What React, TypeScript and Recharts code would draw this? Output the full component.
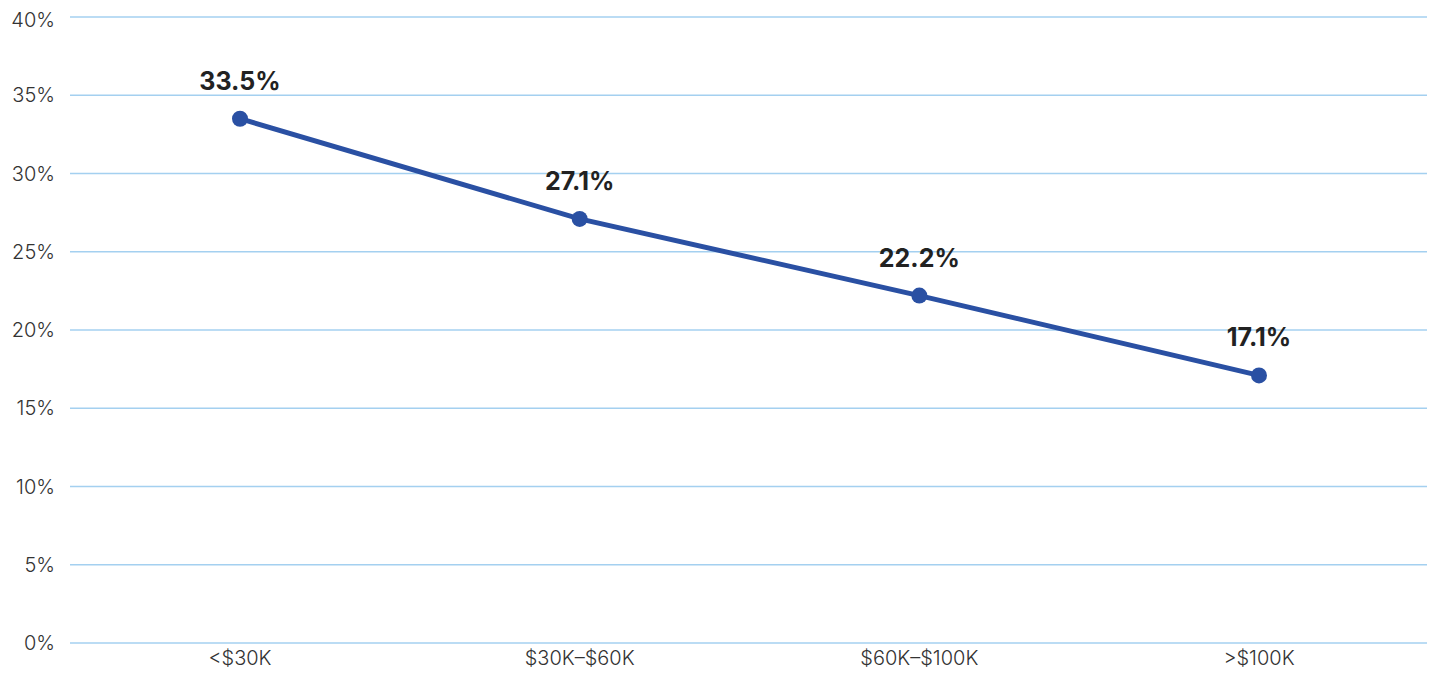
import React from 'react';
import { LineChart, Line, XAxis, YAxis, CartesianGrid, LabelList } from 'recharts';

const categories = ['<$30K', '$30K–$60K', '$60K–$100K', '>$100K'];
const shares = [33.5, 27.1, 22.2, 17.1];
const yTicks = [0, 5, 10, 15, 20, 25, 30, 35, 40];

const data = categories.map((name, i) => ({ name, value: shares[i] }));

const LINE_COLOR = '#2a50a3';
const GRID_COLOR = '#a4d0f0';
const FONT = 'Inter, "Noto Sans", sans-serif';

export default function App() {
  return (
    <div style={{ width: 1427, height: 673 }}>
      <LineChart
        width={1427}
        height={673}
        data={data}
        margin={{ top: 9, right: 6, bottom: 8, left: 0 }}
      >
        <CartesianGrid vertical={false} stroke={GRID_COLOR} strokeWidth={1.3} />
        <XAxis
          dataKey="name"
          axisLine={false}
          tickLine={false}
          padding={{ left: 170, right: 170 }}
          tick={{ fill: '#333', fontSize: 20, fontFamily: FONT, fontWeight: 300 }}
          height={30}
        />
        <YAxis
          domain={[0, 40]}
          ticks={yTicks}
          tickFormatter={(v: number) => `${v}%`}
          axisLine={false}
          tickLine={false}
          width={62}
          tickMargin={9}
          tick={{ fill: '#333', fontSize: 20, fontFamily: FONT, fontWeight: 300 }}
        />
        <Line
          type="linear"
          dataKey="value"
          stroke={LINE_COLOR}
          strokeWidth={5}
          dot={{ r: 8, fill: LINE_COLOR, stroke: LINE_COLOR, strokeWidth: 0 }}
          activeDot={false}
          isAnimationActive={false}
        >
          <LabelList
            dataKey="value"
            position="top"
            offset={29}
            formatter={(v: number) => `${v.toFixed(1)}%`}
            style={{ fill: '#222', fontSize: 25, fontWeight: 700, fontFamily: FONT }}
          />
        </Line>
      </LineChart>
    </div>
  );
}
